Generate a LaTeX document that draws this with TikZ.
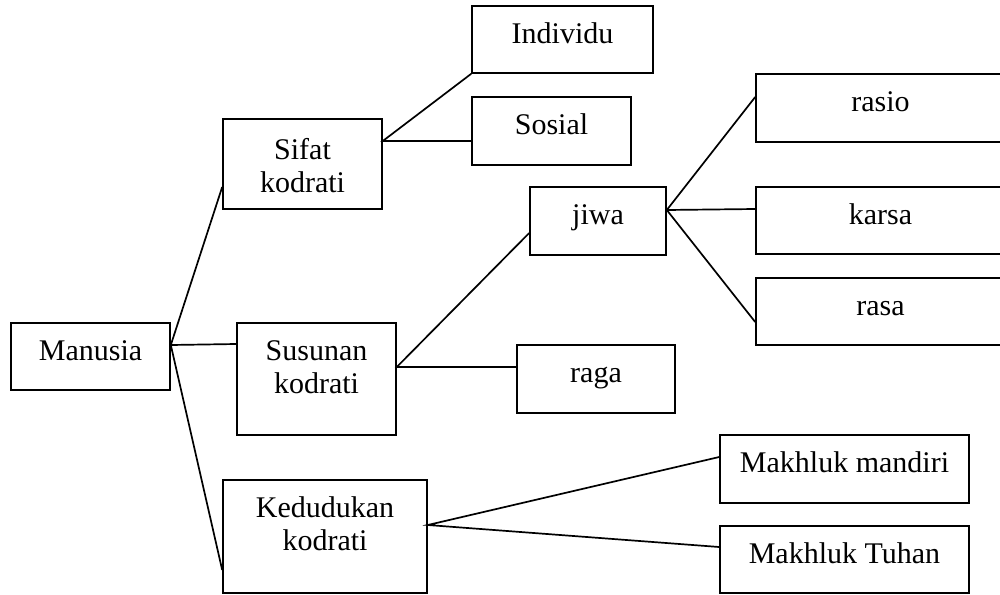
\documentclass[tikz,border=0pt]{standalone}
\usepackage{fontspec}
\setmainfont{Liberation Serif}
\begin{document}
\begin{tikzpicture}[x=1pt,y=-1pt,
  box/.style={draw=black,line width=1.6pt,rectangle,inner sep=0pt},
  lbl/.style={inner sep=0pt,anchor=base,align=center,font=\fontsize{30}{33}\selectfont},
  link/.style={draw=black,line width=1.7pt}]
\useasboundingbox (0,0) rectangle (1000,594);
\clip (0,0) rectangle (1000,594);
% boxes: center, width, height
\node[box,minimum width=159pt,minimum height=67pt] (manusia) at (90.5,356.5) {};
\node[box,minimum width=159pt,minimum height=90pt] (sifat) at (302.5,164) {};
\node[box,minimum width=159pt,minimum height=112pt] (susunan) at (316.5,379) {};
\node[box,minimum width=204pt,minimum height=113pt] (kedudukan) at (325,536.5) {};
\node[box,minimum width=181pt,minimum height=67pt] (individu) at (562.5,39.5) {};
\node[box,minimum width=159pt,minimum height=68pt] (sosial) at (551.5,131) {};
\node[box,minimum width=136pt,minimum height=68pt] (jiwa) at (598,221) {};
\node[box,minimum width=158pt,minimum height=68pt] (raga) at (596,379) {};
\node[box,minimum width=249pt,minimum height=68pt] (rasio) at (880.5,108) {};
\node[box,minimum width=249pt,minimum height=67pt] (karsa) at (880.5,220.5) {};
\node[box,minimum width=249pt,minimum height=67pt] (rasa) at (880.5,311.5) {};
\node[box,minimum width=249pt,minimum height=68pt] (mandiri) at (844.5,469) {};
\node[box,minimum width=249pt,minimum height=67pt] (tuhan) at (844.5,559.5) {};
% labels (multi-line labels are anchored at the baseline of their last line)
\node[lbl] at ([yshift=-38.5pt]manusia.north) {Manusia};
\node[lbl] at ([yshift=-74pt]sifat.north) {Sifat\\kodrati};
\node[lbl] at ([yshift=-71.5pt]susunan.north) {Susunan\\kodrati};
\node[lbl] at ([yshift=-71.5pt]kedudukan.north) {Kedudukan\\kodrati};
\node[lbl] at ([yshift=-38.5pt]individu.north) {Individu};
\node[lbl] at ([yshift=-38.5pt]sosial.north) {Sosial};
\node[lbl] at ([yshift=-38.5pt]jiwa.north) {jiwa};
\node[lbl] at ([yshift=-38.5pt]raga.north) {raga};
\node[lbl] at ([yshift=-38.5pt]rasio.north) {rasio};
\node[lbl] at ([yshift=-38.5pt]karsa.north) {karsa};
\node[lbl] at ([yshift=-38.5pt]rasa.north) {rasa};
\node[lbl] at ([yshift=-38.5pt]mandiri.north) {Makhluk mandiri};
\node[lbl] at ([yshift=-38.5pt]tuhan.north) {Makhluk Tuhan};
% connectors
\coordinate (mR) at ([yshift=11.5pt]manusia.east);
\draw[link] ([yshift=-23pt]sifat.west) -- (mR) -- ([yshift=-33.5pt]kedudukan.west);
\draw[link] (mR) -- ([yshift=35pt]susunan.west);
\coordinate (sR) at ([yshift=23pt]sifat.east);
\draw[link] (individu.south west) -- (sR) -- ([yshift=-10pt]sosial.west);
\coordinate (suR) at ([yshift=12pt]susunan.east);
\draw[link] ([yshift=-12pt]jiwa.west) -- (suR) -- ([yshift=12pt]raga.west);
\coordinate (jR) at ([yshift=11pt]jiwa.east);
\draw[link] ([yshift=11pt]rasio.west) -- (jR) -- ([yshift=-10.5pt]rasa.west);
\draw[link] (jR) -- ([yshift=11.5pt]karsa.west);
\coordinate (kR) at ([yshift=11.5pt]kedudukan.east);
\draw[link] ([yshift=12pt]mandiri.west) -- (kR) -- ([yshift=12.5pt]tuhan.west);
\end{tikzpicture}
\end{document}
